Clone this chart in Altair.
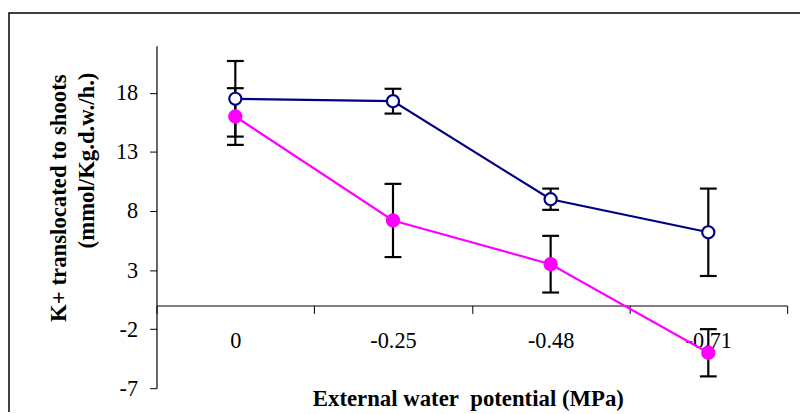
import altair as alt
import pandas as pd

categories = ["0", "-0.25", "-0.48", "-0.71"]
series_names = ["Series 1", "Series 2"]
series_a = [17.5, 17.3, 9.0, 6.2]
series_a_err = [3.2, 1.05, 0.9, 3.7]
series_b = [16.0, 7.2, 3.5, -4.0]
series_b_err = [2.4, 3.1, 2.4, 2.0]
y_ticks = [-7, -2, 3, 8, 13, 18]
y_domain = [-7, 22]

rows = []
for s, vals, errs in [(series_names[0], series_a, series_a_err), (series_names[1], series_b, series_b_err)]:
    for c, v, e in zip(categories, vals, errs):
        rows.append({"cat": c, "series": s, "value": v, "lo": v - e, "hi": v + e})
df = pd.DataFrame(rows)
one = pd.DataFrame({"k": [0]})

W, H = 637, 346
FONT = "Liberation Serif"

x_axis = alt.Axis(title=None, offset=-83.5, tickBand="extent", labelAngle=0, labelFont=FONT,
                  labelFontSize=22.5, labelColor="black", labelPadding=16, tickSize=8,
                  tickColor="black", domainColor="black", tickWidth=1, domainWidth=1.2, grid=False)
x_scale = alt.Scale(type="band", paddingInner=0, paddingOuter=0)
X = alt.X("cat:N", sort=categories, bandPosition=0.5, scale=x_scale, axis=x_axis)

y_scale = alt.Scale(domain=y_domain, nice=False, zero=False)
y_axis = alt.Axis(title=None, values=y_ticks, labelExpr="'' + datum.value", labelFont=FONT,
                  labelFontSize=22.5, labelColor="black", labelPadding=12, tickSize=7,
                  tickColor="black", domainColor="black", tickWidth=1, domainWidth=1.2, grid=False)

base = alt.Chart(df)

frame = alt.Chart(one).mark_rect(filled=False, stroke="black", strokeWidth=1.5).encode(
    x=alt.value(-149), y=alt.value(-33), x2=alt.value(720), y2=alt.value(460))

lines = base.mark_line(strokeWidth=2.2).encode(
    x=X,
    y=alt.Y("value:Q", scale=y_scale, axis=y_axis),
    color=alt.Color("series:N", scale=alt.Scale(domain=series_names, range=["#000080", "#FF00FF"]), legend=None),
)

rules = base.mark_rule(color="black", strokeWidth=2.2).encode(x=X, y="lo:Q", y2="hi:Q")
caps_lo = base.mark_tick(color="black", thickness=2.2, size=17, opacity=1).encode(x=X, y="lo:Q")
caps_hi = base.mark_tick(color="black", thickness=2.2, size=17, opacity=1).encode(x=X, y="hi:Q")

pts_a = base.transform_filter(alt.datum.series == series_names[0]).mark_point(
    shape="circle", filled=True, fill="white", stroke="#000080", strokeWidth=2.2, size=150, opacity=1
).encode(x=X, y="value:Q")
pts_b = base.transform_filter(alt.datum.series == series_names[1]).mark_circle(
    color="#FF00FF", size=210, opacity=1
).encode(x=X, y="value:Q")

ytitle1 = alt.Chart(one).mark_text(text="K+ translocated to shoots", angle=270, font=FONT, fontSize=23,
                                   fontWeight="bold", color="black", align="center", baseline="middle").encode(
    x=alt.value(60 - 158), y=alt.value(198 - 44))
ytitle2 = alt.Chart(one).mark_text(text="(mmol/Kg.d.w./h.)", angle=270, font=FONT, fontSize=23,
                                   fontWeight="bold", color="black", align="center", baseline="middle").encode(
    x=alt.value(88 - 158), y=alt.value(160 - 44))
xtitle = alt.Chart(one).mark_text(text="External water\u00a0 potential (MPa)", font=FONT, fontSize=23,
                                  fontWeight="bold", color="black", align="center", baseline="middle").encode(
    x=alt.value(473 - 158), y=alt.value(401 - 44))

chart = alt.layer(frame, lines, rules, caps_lo, caps_hi, pts_a, pts_b, ytitle1, ytitle2, xtitle).properties(
    width=W, height=H,
    padding={"left": 150, "top": 36, "right": 13, "bottom": 22},
    autosize=alt.AutoSizeParams(type="none"),
).configure_view(stroke="transparent")

chart.save("out.html", embed_options={"renderer": "svg", "actions": False})
